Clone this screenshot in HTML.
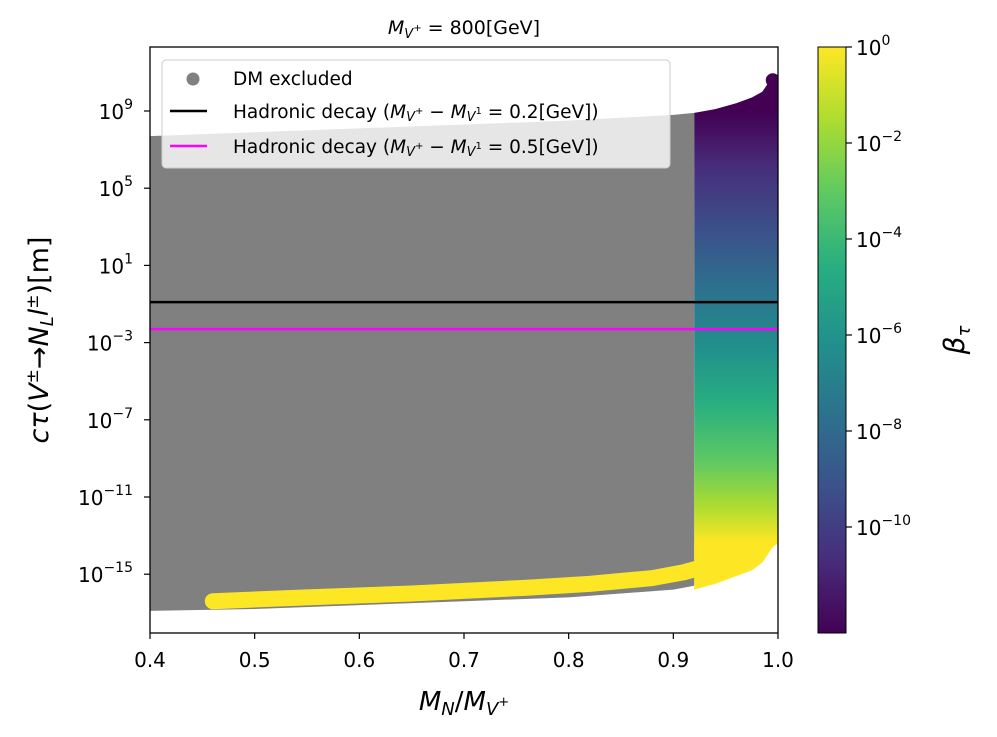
<!DOCTYPE html>
<html><head><meta charset="utf-8"><style>
body{margin:0;background:#fff;}
svg text{font-family:"DejaVu Sans","Liberation Sans",sans-serif;}
</style></head><body>
<svg id="chart" width="997" height="732" xmlns="http://www.w3.org/2000/svg">
<defs>
<linearGradient id="vir" x1="0" y1="633" x2="0" y2="47" gradientUnits="userSpaceOnUse">
<stop offset="0" stop-color="#440154"/><stop offset="0.125" stop-color="#472d7b"/><stop offset="0.25" stop-color="#3b528b"/><stop offset="0.375" stop-color="#2c728e"/><stop offset="0.5" stop-color="#21918c"/><stop offset="0.625" stop-color="#28ae80"/><stop offset="0.75" stop-color="#5ec962"/><stop offset="0.875" stop-color="#addc30"/><stop offset="1" stop-color="#fde725"/>
</linearGradient>
<linearGradient id="regGrad" x1="0" y1="113" x2="0" y2="560" gradientUnits="userSpaceOnUse">
<stop offset="0" stop-color="#440154"/><stop offset="0.12" stop-color="#472d7b"/><stop offset="0.27" stop-color="#3b528b"/><stop offset="0.4" stop-color="#2c728e"/><stop offset="0.53" stop-color="#21918c"/><stop offset="0.65" stop-color="#28ae80"/><stop offset="0.78" stop-color="#5ec962"/><stop offset="0.88" stop-color="#addc30"/><stop offset="0.96" stop-color="#fde725"/>
</linearGradient>
<clipPath id="plotclip"><rect x="150" y="47" width="628" height="586"/></clipPath>
</defs>
<g id="plot" clip-path="url(#plotclip)"></g>
<g id="axes"></g>
<text x="464" y="34" font-size="19" text-anchor="middle"><tspan font-style="italic">M</tspan><tspan font-size="13" dy="4" font-style="italic">V</tspan><tspan font-size="10" dy="-7">+</tspan><tspan dy="3"> = 800[GeV]</tspan></text>
<text x="464" y="710" font-size="26" text-anchor="middle"><tspan font-style="italic">M</tspan><tspan font-size="18" dy="5" font-style="italic">N</tspan><tspan dy="-5">/</tspan><tspan font-style="italic">M</tspan><tspan font-size="18" dy="5" font-style="italic">V</tspan><tspan font-size="13" dy="-9">+</tspan></text>
<text transform="translate(48,340) rotate(-90)" font-size="27" text-anchor="middle"><tspan font-style="italic">cτ</tspan>(<tspan font-style="italic">V</tspan><tspan font-size="17" dy="-10">±</tspan><tspan dy="10">→</tspan><tspan font-style="italic">N</tspan><tspan font-size="18" dy="5" font-style="italic">L</tspan><tspan dy="-5" font-style="italic">l</tspan><tspan font-size="17" dy="-10">±</tspan><tspan dy="10">)[m]</tspan></text>
<text transform="translate(964,340) rotate(-90)" font-size="28" text-anchor="middle"><tspan font-style="italic">β</tspan><tspan font-size="18" dy="6" font-style="italic">τ</tspan></text>
<g>
<rect x="162" y="60" width="508" height="108" rx="4" fill="#fff" fill-opacity="0.8" stroke="#ccc"/>
<circle cx="193" cy="79" r="6.5" fill="#808080"/>
<text x="233" y="85" font-size="18.5">DM excluded</text>
<line x1="170" y1="111" x2="207" y2="111" stroke="#000" stroke-width="2.5"/>
<text x="233" y="118" font-size="18.5">Hadronic decay (<tspan font-style="italic">M</tspan><tspan font-size="13" dy="3" font-style="italic">V</tspan><tspan font-size="10" dy="-7">+</tspan><tspan dy="4"> − </tspan><tspan font-style="italic">M</tspan><tspan font-size="13" dy="3" font-style="italic">V</tspan><tspan font-size="10" dy="-7">1</tspan><tspan dy="4"> = 0.2[GeV])</tspan></text>
<line x1="170" y1="146" x2="207" y2="146" stroke="#ff00ff" stroke-width="2.5"/>
<text x="233" y="153" font-size="18.5">Hadronic decay (<tspan font-style="italic">M</tspan><tspan font-size="13" dy="3" font-style="italic">V</tspan><tspan font-size="10" dy="-7">+</tspan><tspan dy="4"> − </tspan><tspan font-style="italic">M</tspan><tspan font-size="13" dy="3" font-style="italic">V</tspan><tspan font-size="10" dy="-7">1</tspan><tspan dy="4"> = 0.5[GeV])</tspan></text>
</g>
<rect x="818" y="47" width="28" height="586" fill="url(#vir)" stroke="#000" stroke-width="1"/>
<g id="cbar"></g>
</svg>
<script>
// data
const xTicks=[0.4,0.5,0.6,0.7,0.8,0.9,1.0];
const yTickExps=[9,5,1,-3,-7,-11,-15];
const cbTickExps=[0,-2,-4,-6,-8,-10];
// gray excluded region: top boundary and bottom boundary (log10 ctau)
const grayX=[0.40,0.50,0.60,0.70,0.80,0.90,0.92];
const grayTop=[7.7,7.9,8.1,8.3,8.5,8.8,8.9];
const grayBot=[-16.9,-16.8,-16.6,-16.4,-16.2,-15.8,-15.6];
// yellow band (center log10 ctau)
const bandX=[0.46,0.55,0.65,0.76,0.82,0.88,0.91,0.93];
const bandY=[-16.4,-16.2,-16.0,-15.7,-15.5,-15.2,-14.9,-14.6];
// colored allowed region
const colX=[0.92,0.94,0.96,0.975,0.985,0.995,1.0];
const colTop=[8.9,9.1,9.4,9.7,10.0,10.8,10.8];
const colBot=[-15.8,-15.5,-15.1,-14.8,-14.4,-13.6,-13.4];
const hadronic=[-0.9,-2.3];
const X=v=>150+(v-0.4)/0.6*628;
const Y=L=>111+(9-L)*19.3;
const CB=L=>47+(0-L)*48;
const NS="http://www.w3.org/2000/svg";
function mk(tag,attrs,parent){const e=document.createElementNS(NS,tag);for(const k in attrs)e.setAttribute(k,attrs[k]);parent.appendChild(e);return e;}
const plot=document.getElementById('plot'),axes=document.getElementById('axes'),cbar=document.getElementById('cbar');
// gray region
let d='M'+grayX.map((x,i)=>X(x)+','+Y(grayTop[i])).join(' L');
for(let i=grayX.length-1;i>=0;i--)d+=' L'+X(grayX[i])+','+Y(grayBot[i]);
let g=mk('path',{d:d+'Z',fill:'#808080'},plot);


// yellow band
let b=mk('polyline',{points:bandX.map((x,i)=>X(x)+','+Y(bandY[i])).join(' '),fill:'none',stroke:'#fde725','stroke-width':16,'stroke-linecap':'round','stroke-linejoin':'round'},plot);


// colored region
d='M'+colX.map((x,i)=>X(x)+','+Y(colTop[i])).join(' L');
for(let i=colX.length-1;i>=0;i--)d+=' L'+X(colX[i])+','+Y(colBot[i]);
let c=mk('path',{d:d+'Z',fill:'url(#regGrad)'},plot);


let cap=mk('circle',{cx:X(0.995),cy:Y(10.8)+4,r:7,fill:'#440154'},plot);


// hadronic lines
['#000','#ff00ff'].forEach((col,i)=>{
 const l=mk('line',{x1:150,x2:778,y1:Y(hadronic[i]),y2:Y(hadronic[i]),stroke:col,'stroke-width':2.5},plot);
 
 
});
// frame
const fr=mk('rect',{x:150,y:47,width:628,height:586,fill:'none',stroke:'#000','stroke-width':1.3},axes);


xTicks.forEach(t=>{
 mk('line',{x1:X(t),x2:X(t),y1:633,y2:639,stroke:'#000','stroke-width':1.2},axes);
 const tx=mk('text',{x:X(t),y:667,'font-size':20,'text-anchor':'middle'},axes);
 tx.textContent=t.toFixed(1);
 
 
});
yTickExps.forEach(e=>{
 mk('line',{x1:144,x2:150,y1:Y(e),y2:Y(e),stroke:'#000','stroke-width':1.2},axes);
 const tx=mk('text',{x:133,y:Y(e)+8,'font-size':20,'text-anchor':'end'},axes);
 tx.innerHTML='10<tspan font-size="14" dy="-10">'+(e<0?'−'+(-e):e)+'</tspan>';
 
 
});
cbTickExps.forEach(e=>{
 mk('line',{x1:846,x2:852,y1:CB(e),y2:CB(e),stroke:'#000','stroke-width':1.2},cbar);
 const tx=mk('text',{x:856,y:CB(e)+8,'font-size':20},cbar);
 tx.innerHTML='10<tspan font-size="14" dy="-10">'+(e<0?'−'+(-e):e)+'</tspan>';
 
 
});
</script>
</body></html>
